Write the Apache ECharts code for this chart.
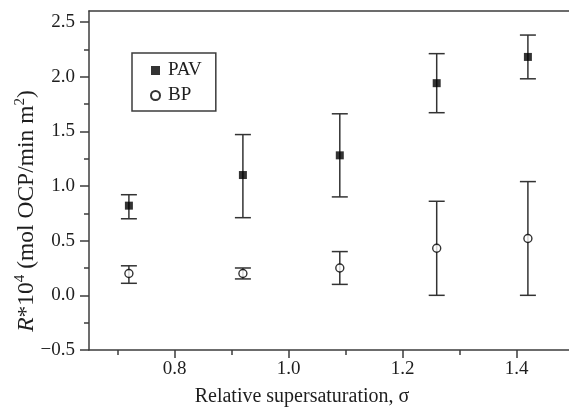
<!DOCTYPE html>
<html>
<head>
<meta charset="utf-8">
<script src="https://cdn.jsdelivr.net/npm/echarts@6/dist/echarts.min.js"></script>
<style>
  html, body { margin: 0; padding: 0; background: #fff; overflow: hidden; }
  #chart { width: 569px; height: 408px; }
</style>
</head>
<body>
<div id="chart"></div>
<script>
// relative supersaturation
const sigma = [0.72, 0.92, 1.09, 1.26, 1.42]
// PAV rates with error limits
const pavMean = [0.82, 1.10, 1.28, 1.94, 2.18]
const pavLow = [0.70, 0.71, 0.90, 1.67, 1.98]
const pavHigh = [0.92, 1.47, 1.66, 2.21, 2.38]
// BP rates with error limits
const bpMean = [0.20, 0.20, 0.25, 0.43, 0.52]
const bpLow = [0.11, 0.15, 0.10, 0.00, 0.00]
const bpHigh = [0.27, 0.25, 0.40, 0.86, 1.04]
// axis ticks
const xMajor = [0.8, 1.0, 1.2, 1.4]
const xMinor = [0.7, 0.9, 1.1, 1.3]
const yMajor = [-0.5, 0, 0.5, 1.0, 1.5, 2.0, 2.5]
const yMinor = [-0.25, 0.25, 0.75, 1.25, 1.75, 2.25]

const FONT = '"Liberation Serif", "Times New Roman", serif'
const AXIS_COLOR = '#3c3c3c'
const TEXT_COLOR = '#1e1e1e'

const chart = echarts.init(document.getElementById('chart'))

const errorBars = (name, low, high) => ({
  name: name + ' err',
  type: 'custom',
  z: 2,
  silent: true,
  data: sigma.map((s, i) => [s, low[i], high[i]]),
  encode: { x: 0, y: [1, 2] },
  renderItem: (params, api) => {
    const x = api.value(0)
    const top = api.coord([x, api.value(2)])
    const bottom = api.coord([x, api.value(1)])
    const cap = 8
    const style = { stroke: '#333', lineWidth: 1.5 }
    return {
      type: 'group',
      children: [
        { type: 'line', shape: { x1: top[0], y1: top[1], x2: bottom[0], y2: bottom[1] }, style },
        { type: 'line', shape: { x1: top[0] - cap, y1: top[1], x2: top[0] + cap, y2: top[1] }, style },
        { type: 'line', shape: { x1: bottom[0] - cap, y1: bottom[1], x2: bottom[0] + cap, y2: bottom[1] }, style }
      ]
    }
  }
})

const fmt = v => (v < 0 ? '\u2212' : '') + Math.abs(v).toFixed(1)

const lineStyle = () => ({ color: AXIS_COLOR, width: 1.5 })

const options = {
  animation: false,
  grid: {
    left: 89,
    top: 11,
    width: 501.6,
    height: 339,
    outerBoundsMode: 'none'
  },
  legend: {
    orient: 'vertical',
    left: 132,
    top: 53,
    padding: [8, 14, 6, 18],
    itemWidth: 9,
    itemHeight: 9,
    itemGap: 6,
    borderColor: AXIS_COLOR,
    borderWidth: 1.5,
    textStyle: {
      fontFamily: FONT,
      fontSize: 19,
      color: TEXT_COLOR,
      lineHeight: 19,
      padding: [0, 0, 0, 3]
    },
    data: [
      { name: 'PAV', icon: 'rect' },
      { name: 'BP', icon: 'circle' }
    ]
  },
  xAxis: [
    {
      type: 'value',
      min: 0.65,
      max: 1.53,
      position: 'bottom',
      axisLine: { show: true, onZero: false, lineStyle: lineStyle() },
      axisTick: { show: true, customValues: xMajor, length: 8, lineStyle: lineStyle() },
      axisLabel: {
        customValues: xMajor,
        margin: 10,
        fontFamily: FONT,
        fontSize: 19,
        color: TEXT_COLOR,
        formatter: fmt
      },
      splitLine: { show: false }
    },
    {
      type: 'value',
      min: 0.65,
      max: 1.53,
      position: 'bottom',
      axisLine: { show: false, onZero: false },
      axisTick: { show: true, customValues: xMinor, length: 5, lineStyle: lineStyle() },
      axisLabel: { show: false },
      splitLine: { show: false }
    },
    {
      // top frame line only
      type: 'value',
      min: 0.65,
      max: 1.53,
      position: 'top',
      axisLine: { show: true, onZero: false, lineStyle: lineStyle() },
      axisTick: { show: false },
      axisLabel: { show: false },
      splitLine: { show: false }
    }
  ],
  yAxis: [
    {
      type: 'value',
      min: -0.5,
      max: 2.6,
      position: 'left',
      axisLine: { show: true, onZero: false, lineStyle: lineStyle() },
      axisTick: { show: true, customValues: yMajor, length: 9, lineStyle: lineStyle() },
      axisLabel: {
        customValues: yMajor,
        margin: 14,
        fontFamily: FONT,
        fontSize: 19,
        color: TEXT_COLOR,
        formatter: fmt
      },
      splitLine: { show: false }
    },
    {
      type: 'value',
      min: -0.5,
      max: 2.6,
      position: 'left',
      axisLine: { show: false, onZero: false },
      axisTick: { show: true, customValues: yMinor, length: 5, lineStyle: lineStyle() },
      axisLabel: { show: false },
      splitLine: { show: false }
    }
  ],
  graphic: [
    {
      type: 'text',
      x: 302,
      y: 397,
      style: {
        text: 'Relative supersaturation, \u03c3',
        font: '20px ' + FONT,
        fill: TEXT_COLOR,
        align: 'center',
        verticalAlign: 'middle'
      }
    },
    {
      type: 'text',
      x: 27,
      y: 211,
      rotation: Math.PI / 2,
      style: {
        text: '{i|R}{n|*10}{s|4}{n| (mol OCP/min m}{s|2}{n|)}',
        align: 'center',
        verticalAlign: 'middle',
        fill: TEXT_COLOR,
        rich: {
          i: { fontFamily: FONT, fontSize: 23.5, fontStyle: 'italic', lineHeight: 28, fill: TEXT_COLOR },
          n: { fontFamily: FONT, fontSize: 23.5, lineHeight: 28, fill: TEXT_COLOR },
          s: { fontFamily: FONT, fontSize: 15, lineHeight: 12, verticalAlign: 'top', fill: TEXT_COLOR }
        }
      }
    }
  ],
  series: [
    errorBars('PAV', pavLow, pavHigh),
    errorBars('BP', bpLow, bpHigh),
    {
      name: 'PAV',
      type: 'scatter',
      z: 3,
      symbol: 'rect',
      symbolSize: 8,
      itemStyle: { color: '#000' },
      data: sigma.map((s, i) => [s, pavMean[i]])
    },
    {
      name: 'BP',
      type: 'scatter',
      z: 3,
      symbol: 'circle',
      symbolSize: 8,
      itemStyle: { color: '#fff', borderColor: '#000', borderWidth: 1.4 },
      data: sigma.map((s, i) => [s, bpMean[i]])
    }
  ]
}

chart.setOption(options)
</script>
</body>
</html>
